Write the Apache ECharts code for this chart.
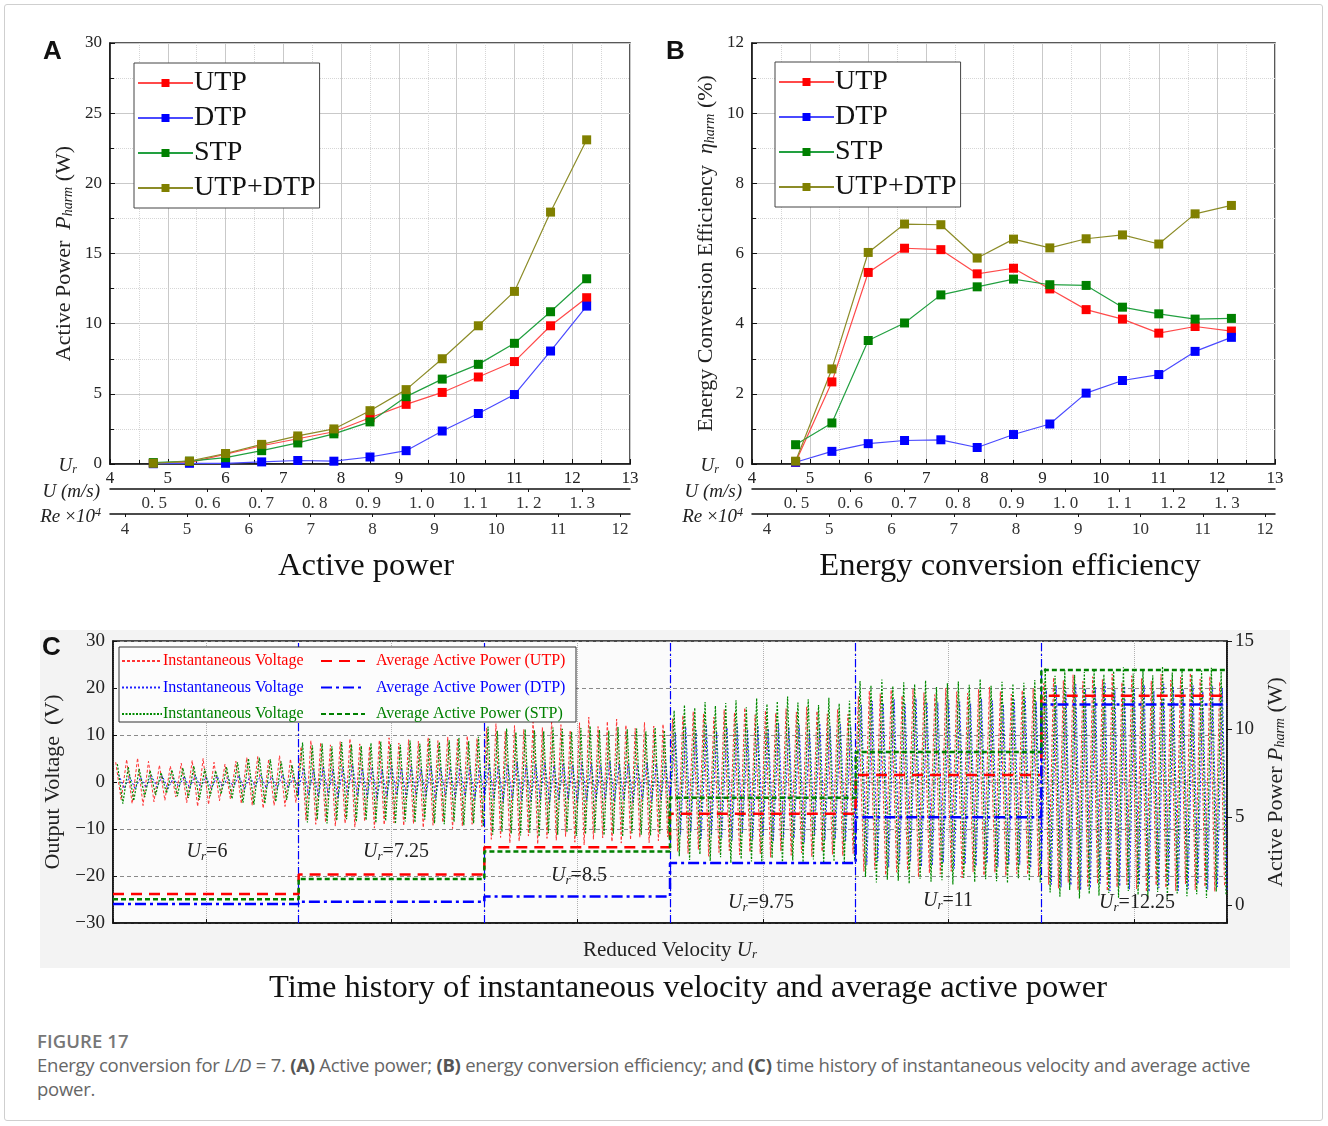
<!DOCTYPE html>
<html>
<head>
<meta charset="utf-8">
<script src="https://cdn.jsdelivr.net/npm/echarts@6/dist/echarts.min.js"></script>
<style>
html,body{margin:0;padding:0;background:#fff;}
#wrap{position:relative;width:1328px;height:1126px;overflow:hidden;}
#frame{position:absolute;left:4px;top:4px;width:1319px;height:1117px;border:1px solid #cfcfcf;border-radius:3px;box-sizing:border-box;}
#chart{position:absolute;left:0;top:0;width:1328px;height:1020px;}
#cap{position:absolute;left:37px;top:1029px;width:1235px;font-family:"Open Sans",Lato,sans-serif;color:#666;z-index:2;}
#cap .h{font-size:18.5px;font-weight:600;letter-spacing:0.1px;color:#777;line-height:24px;}
#cap .t{font-size:18.5px;line-height:24px;margin-top:0px;color:#666;letter-spacing:-0.25px;}
#cap b{color:#555;font-weight:700;}
</style>
</head>
<body>
<div id="wrap">
<div id="frame"></div>
<div id="chart"></div>
<div id="cap"><div class="h">FIGURE 17</div><div class="t">Energy conversion for <i>L/D</i> = 7. <b>(A)</b> Active power; <b>(B)</b> energy conversion efficiency; and <b>(C)</b> time history of instantaneous velocity and average active power.</div></div>
</div>
<script>
// ---------------- DATA ----------------
const urValues = [4.75, 5.375, 6, 6.625, 7.25, 7.875, 8.5, 9.125, 9.75, 10.375, 11, 11.625, 12.25];
const seriesNames = ['UTP', 'DTP', 'STP', 'UTP+DTP'];

// Panel A: active power (W)
const powerUTP = [0.05, 0.1, 0.7, 1.3, 1.8, 2.3, 3.3, 4.25, 5.1, 6.2, 7.3, 9.85, 11.85];
const powerDTP = [0.02, 0.05, 0.05, 0.15, 0.25, 0.2, 0.5, 0.95, 2.35, 3.6, 4.95, 8.05, 11.25];
const powerSTP = [0.1, 0.2, 0.45, 0.95, 1.5, 2.15, 3.0, 4.8, 6.05, 7.1, 8.6, 10.85, 13.2];
const powerSum = [0.05, 0.2, 0.75, 1.4, 2.0, 2.5, 3.8, 5.3, 7.5, 9.85, 12.3, 17.95, 23.1];

// Panel B: energy conversion efficiency (%)
const effUTP = [0.05, 2.34, 5.46, 6.15, 6.11, 5.42, 5.58, 4.99, 4.40, 4.13, 3.73, 3.92, 3.79];
const effDTP = [0.05, 0.36, 0.58, 0.67, 0.69, 0.47, 0.84, 1.14, 2.02, 2.38, 2.55, 3.21, 3.61];
const effSTP = [0.55, 1.17, 3.52, 4.02, 4.82, 5.05, 5.27, 5.11, 5.09, 4.47, 4.28, 4.13, 4.15];
const effSum = [0.08, 2.71, 6.03, 6.84, 6.82, 5.87, 6.41, 6.16, 6.42, 6.53, 6.27, 7.13, 7.37];

// secondary axis tick labels
const velocityTicks = [0.5, 0.6, 0.7, 0.8, 0.9, 1.0, 1.1, 1.2, 1.3];
const reynoldsTicks = [4, 5, 6, 7, 8, 9, 10, 11, 12];

// Panel C
const segmentLabels = ['6', '7.25', '8.5', '9.75', '11', '12.25'];
const avgPowerUTP = [0.65, 1.75, 3.3, 5.2, 7.4, 11.9];
const avgPowerDTP = [0.08, 0.2, 0.5, 2.4, 5.0, 11.4];
const avgPowerSTP = [0.35, 1.5, 3.05, 6.1, 8.7, 13.35];
const powerTicksRight = [0, 5, 10, 15];

// instantaneous voltage extremes (peak, trough, ...) per Ur segment
const voltageUTP = [
  [4.2,-3.8, 4.8,-4.6, 5.1,-5.0, 4.4,-4.2, 3.6,-3.9, 3.4,-3.2, 4.0,-4.4, 4.6,-5.2, 5.0,-4.8, 4.2,-4.0, 3.8,-3.6, 4.4,-4.6, 5.2,-5.0, 5.4,-5.6, 4.8,-5.0, 5.6,-5.2, 4.9,-4.4],
  [7.5,-8.2, 8.8,-9.0, 8.4,-8.6, 7.9,-9.4, 8.6,-8.8, 9.2,-9.6, 8.1,-8.4, 7.6,-9.8, 8.9,-9.1, 9.4,-8.7, 8.3,-9.3, 9.0,-8.9, 8.7,-9.7, 9.5,-9.2, 8.8,-8.6, 9.6,-9.9, 9.1,-9.4, 9.8,-9.0, 9.3,-9.5],
  [11.5,-12.2, 12.4,-11.8, 10.8,-13.0, 12.0,-12.6, 11.2,-11.5, 12.8,-13.2, 11.6,-12.0, 13.2,-12.4, 12.2,-11.6, 11.0,-12.8, 12.6,-13.4, 13.8,-12.2, 11.8,-11.9, 12.9,-12.7, 13.4,-13.0, 12.1,-12.3, 11.4,-11.8, 12.7,-12.9, 11.9,-12.5, 12.3,-11.7],
  [13.5,-14.8, 14.2,-15.2, 15.0,-14.4, 14.6,-15.8, 13.8,-15.0, 15.4,-14.6, 14.8,-15.5, 15.8,-14.9, 14.3,-15.3, 15.2,-16.0, 14.7,-14.7, 15.6,-15.6, 14.9,-15.1, 16.0,-15.9, 15.1,-14.8, 14.5,-15.4, 15.5,-15.7, 14.4,-15.2],
  [18.2,-19.0, 19.4,-18.6, 18.8,-19.8, 19.6,-19.2, 18.4,-18.8, 19.8,-20.2, 19.0,-19.4, 18.6,-19.6, 20.0,-19.0, 19.2,-20.4, 18.9,-19.1, 19.7,-19.9, 20.2,-19.3, 19.3,-20.0, 18.7,-19.5, 19.5,-19.7, 19.9,-20.1],
  [21.0,-21.8, 22.2,-22.6, 21.6,-21.4, 22.8,-23.0, 21.4,-22.2, 22.4,-21.6, 21.8,-23.2, 23.0,-22.4, 21.2,-21.9, 22.6,-22.8, 22.0,-23.4, 21.5,-22.0, 22.9,-22.5, 21.7,-23.1, 22.3,-21.7, 23.2,-22.9, 21.9,-22.3, 22.5,-23.3, 21.3,-22.1]
];
const voltageDTP = [
  [1.6,-1.4, 1.2,-1.5, 1.0,-1.2, 1.4,-1.1, 1.3,-1.5, 0.9,-1.0, 1.2,-1.3, 1.5,-1.2, 1.1,-1.4, 1.3,-1.0, 1.0,-1.2, 1.4,-1.6, 1.2,-1.0, 1.5,-1.3, 1.1,-1.4, 1.6,-1.2, 1.0,-1.3],
  [3.0,-2.8, 2.6,-3.2, 3.4,-2.9, 2.8,-3.5, 3.1,-2.7, 3.6,-3.0, 2.9,-3.3, 3.2,-3.6, 2.7,-3.1, 3.5,-2.8, 3.0,-3.4, 3.3,-2.9, 2.8,-3.2, 3.6,-3.5, 3.1,-2.8, 2.9,-3.3, 3.4,-3.0, 3.2,-3.6, 3.0,-3.1],
  [4.0,-3.6, 3.4,-4.2, 3.8,-3.5, 4.4,-3.9, 3.6,-4.1, 3.9,-3.7, 4.2,-4.4, 3.5,-3.8, 4.1,-3.6, 3.7,-4.3, 4.3,-3.9, 3.8,-4.0, 3.6,-3.7, 4.5,-4.2, 3.9,-3.8, 4.0,-4.5, 3.7,-3.6, 4.2,-4.1, 3.8,-3.9, 4.1,-4.0],
  [10.5,-11.2, 11.8,-10.6, 11.0,-12.0, 12.2,-11.4, 10.8,-11.8, 11.6,-12.4, 12.4,-11.0, 11.2,-12.2, 12.0,-11.6, 11.4,-12.6, 12.6,-11.8, 11.7,-12.0, 12.1,-12.8, 11.3,-11.5, 12.5,-12.3, 11.9,-12.1, 12.3,-12.7, 11.8,-12.2],
  [16.4,-17.6, 17.2,-16.8, 16.8,-18.2, 17.6,-17.4, 16.6,-17.0, 17.8,-18.0, 17.0,-17.8, 16.9,-17.2, 17.4,-18.4, 17.1,-17.5, 16.7,-17.9, 17.7,-17.3, 17.3,-18.1, 16.5,-17.7, 17.5,-17.6, 17.9,-18.3, 17.2,-17.4],
  [19.5,-21.8, 20.6,-22.4, 19.2,-22.0, 20.8,-23.0, 19.8,-22.6, 20.2,-21.6, 21.0,-23.2, 19.6,-22.2, 20.4,-22.8, 19.9,-21.9, 20.7,-23.4, 19.4,-22.5, 20.9,-22.1, 20.1,-23.1, 19.7,-22.7, 20.5,-21.7, 19.3,-22.9, 20.3,-22.3, 20.0,-23.3]
];
const voltageSTP = [
  [3.8,-4.6, 3.2,-4.0, 2.8,-3.2, 2.4,-2.8, 2.0,-2.4, 2.6,-3.0, 3.0,-3.4, 3.4,-3.8, 2.8,-3.0, 2.4,-2.6, 3.2,-3.6, 4.2,-4.4, 5.0,-4.8, 5.2,-4.6, 4.8,-4.2, 4.4,-3.8, 3.6,-3.2],
  [8.4,-8.6, 7.8,-8.0, 8.2,-8.8, 7.6,-8.2, 8.5,-7.9, 8.0,-8.5, 7.7,-8.1, 8.3,-8.7, 8.6,-8.3, 8.1,-8.9, 7.9,-8.4, 8.8,-8.6, 8.2,-8.0, 9.2,-8.8, 8.5,-9.0, 8.9,-8.5, 9.4,-9.2, 8.7,-8.8, 9.6,-9.4],
  [11.8,-11.2, 10.9,-10.6, 11.4,-11.0, 10.6,-11.4, 11.2,-10.8, 11.0,-11.6, 10.8,-10.9, 11.6,-11.2, 11.3,-10.7, 10.7,-11.5, 11.5,-11.1, 11.9,-10.8, 11.1,-11.3, 10.9,-11.0, 11.7,-11.6, 11.2,-10.9, 11.4,-11.2, 10.8,-11.4, 11.6,-11.0, 11.0,-11.5],
  [15.2,-15.8, 16.4,-16.6, 15.8,-15.4, 17.0,-16.8, 16.2,-16.0, 16.8,-17.2, 17.4,-16.4, 15.9,-16.9, 17.8,-17.0, 16.6,-16.2, 17.2,-17.4, 18.2,-16.7, 16.9,-17.1, 17.6,-16.5, 16.4,-17.3, 17.9,-16.9, 16.7,-17.0, 17.3,-16.6],
  [21.5,-20.2, 20.6,-21.4, 21.8,-20.8, 20.4,-21.0, 21.2,-21.6, 20.8,-20.6, 21.6,-21.2, 20.2,-20.9, 21.0,-21.8, 21.4,-20.4, 20.7,-21.3, 21.9,-20.7, 20.5,-21.1, 21.3,-21.5, 20.9,-20.5, 21.1,-21.0, 21.7,-21.4],
  [24.2,-23.5, 22.6,-24.4, 23.8,-23.0, 22.8,-24.8, 23.4,-23.8, 24.0,-24.2, 22.9,-23.6, 23.6,-24.6, 24.4,-23.2, 23.1,-24.0, 23.9,-24.5, 22.7,-23.4, 24.6,-24.9, 23.3,-23.7, 24.1,-24.3, 22.8,-23.9, 23.7,-24.7, 24.3,-23.3, 23.5,-24.1]
];

// ---------------- HELPERS ----------------
const SERIF = '"Liberation Serif","Times New Roman",serif';
const SANS = '"Liberation Sans",Arial,sans-serif';
const pairs = (xs, ys) => xs.map((x, i) => [x, ys[i]]);
function buildWave(segs, phase) {
  const pts = [];
  segs.forEach((arr, s) => {
    const n = arr.length;
    arr.forEach((v, k) => pts.push([s + (k + 0.5 + phase) / n, v]));
  });
  return pts;
}
function buildSteps(vals) {
  const pts = [];
  vals.forEach((v, s) => { pts.push([s, v]); pts.push([s + 1, v]); });
  return pts;
}
// mapping of the secondary scales onto the Ur span 4..13 (layout)
const uAt = ur => 0.5 + (ur - 4.765) / 9.26;
const reAt = ur => 4 + (ur - 4.26) / 1.071;

const colors = {
  UTP: {m: '#ff0000', l: '#ff4a4a'},
  DTP: {m: '#0000ff', l: '#4a4aff'},
  STP: {m: '#008000', l: '#22a040'},
  'UTP+DTP': {m: '#808000', l: '#8c8c28'}
};

function mainX(grid) {
  return {
    gridIndex: grid, type: 'value', min: 4, max: 13, interval: 1, position: 'bottom',
    axisLine: {show: true, onZero: false, lineStyle: {color: '#111', width: 1.5}},
    axisTick: {show: true, inside: true, length: 5, lineStyle: {color: '#111'}},
    minorTick: {show: true, splitNumber: 2, length: 4, lineStyle: {color: '#111'}},
    axisLabel: {fontSize: 17, color: '#222', margin: 6, fontFamily: SERIF},
    splitLine: {show: true, lineStyle: {color: '#c9c9c9', width: 1}},
    minorSplitLine: {show: true, lineStyle: {color: '#d6d6d6', type: 'dotted'}}
  };
}
function uAxis(grid) {
  return {
    gridIndex: grid, type: 'value', min: uAt(4), max: uAt(13), position: 'bottom', offset: 25,
    axisLine: {show: true, onZero: false, lineStyle: {color: '#111', width: 1.5}},
    axisTick: {show: true, customValues: velocityTicks, length: 3, lineStyle: {color: '#111'}},
    axisLabel: {customValues: velocityTicks, fontSize: 17, color: '#333', margin: 6, fontFamily: SERIF,
      formatter: v => v.toFixed(1).replace('.', '. ')},
    splitLine: {show: false}
  };
}
function reAxis(grid) {
  return {
    gridIndex: grid, type: 'value', min: reAt(4), max: reAt(13), position: 'bottom', offset: 50,
    axisLine: {show: true, onZero: false, lineStyle: {color: '#111', width: 1.5}},
    axisTick: {show: true, customValues: reynoldsTicks, length: 3, lineStyle: {color: '#111'}},
    axisLabel: {customValues: reynoldsTicks, fontSize: 17, color: '#333', margin: 7, fontFamily: SERIF,
      formatter: v => String(Math.round(v))},
    splitLine: {show: false}
  };
}
const subRich = {
  i: {fontStyle: 'italic', fontSize: 22, fontFamily: SERIF, color: '#222'},
  s: {fontStyle: 'italic', fontSize: 14, fontFamily: SERIF, color: '#222', verticalAlign: 'bottom', padding: [8, 0, 0, 0]}
};
function leftY(grid, max, interval, name) {
  return {
    gridIndex: grid, type: 'value', min: 0, max: max, interval: interval,
    axisLine: {show: true, onZero: false, lineStyle: {color: '#111', width: 1.5}},
    axisTick: {show: true, inside: true, length: 5, lineStyle: {color: '#111'}},
    minorTick: {show: true, splitNumber: 2, length: 4, lineStyle: {color: '#111'}},
    axisLabel: {fontSize: 17, color: '#222', margin: 8, fontFamily: SERIF},
    splitLine: {show: true, lineStyle: {color: '#c9c9c9'}},
    minorSplitLine: {show: true, lineStyle: {color: '#d6d6d6', type: 'dotted'}},
    name: name, nameLocation: 'middle', nameRotate: 90, nameGap: 35,
    nameTextStyle: {fontSize: 22, fontFamily: SERIF, color: '#222', rich: subRich}
  };
}
function abSeries(name, xIdx, yIdx, ys) {
  const c = colors[name];
  return {
    name: name, type: 'line', xAxisIndex: xIdx, yAxisIndex: yIdx,
    data: pairs(urValues, ys), symbol: 'rect', symbolSize: 9, showSymbol: true,
    itemStyle: {color: c.m}, lineStyle: {color: c.l, width: 1.2}, z: 5
  };
}
function abLegend(left, top) {
  return {
    orient: 'vertical', left: left, top: top, selectedMode: false,
    data: seriesNames,
    backgroundColor: '#fff', borderColor: '#444', borderWidth: 1, padding: [6, 4, 6, 3],
    itemWidth: 55, itemHeight: 10, itemGap: 7,
    textStyle: {fontSize: 28, fontFamily: SERIF, color: '#111', lineHeight: 26, padding: [0, 0, 0, -4]}
  };
}

const gridA = {left: 110, top: 43, width: 520, height: 421, show: true, borderColor: '#222', borderWidth: 1.5, backgroundColor: '#fff', containLabel: false};
const gridB = {left: 752, top: 43, width: 523, height: 421, show: true, borderColor: '#222', borderWidth: 1.5, backgroundColor: '#fff', containLabel: false};
const gridC = {left: 113, top: 641, width: 1114, height: 282, show: true, borderColor: '#111', borderWidth: 1.5, backgroundColor: '#fbfbfb', containLabel: false};

const segRich = {
  u: {fontStyle: 'italic', fontSize: 20, fontFamily: SERIF, color: '#222'},
  s: {fontStyle: 'italic', fontSize: 13, fontFamily: SERIF, color: '#222', verticalAlign: 'bottom', padding: [9, 0, 0, 0]},
  n: {fontSize: 20, fontFamily: SERIF, color: '#222'}
};
const segPos = [[207, 852], [396, 852], [579, 876], [761, 903], [948, 901], [1137, 903]];

function txt(x, y, text, font, align) {
  return {type: 'text', x: x, y: y, z: 50, style: {text: text, font: font, fill: '#111', textAlign: align || 'left', textVerticalAlign: 'middle'}};
}
function richTxt(x, y, text, rich, align) {
  return {type: 'text', x: x, y: y, z: 50, style: {text: text, rich: rich, textAlign: align, textVerticalAlign: 'middle', fill: '#222', font: '20px ' + SERIF}};
}
const rowRich = {
  u: {fontStyle: 'italic', fontSize: 19, fontFamily: SERIF, color: '#222'},
  s: {fontStyle: 'italic', fontSize: 12, fontFamily: SERIF, color: '#222', verticalAlign: 'bottom', padding: [8, 0, 0, 0]},
  p: {fontStyle: 'italic', fontSize: 12, fontFamily: SERIF, color: '#222', verticalAlign: 'top', padding: [0, 0, 8, 0]},
  n: {fontSize: 19, fontFamily: SERIF, color: '#222'}
};
function rowLabels(ax) {
  return [
    richTxt(ax - 33, 466, '{u|U}{s|r}', rowRich, 'right'),
    richTxt(ax - 10, 492, '{u|U (m/s)}', rowRich, 'right'),
    richTxt(ax - 9, 517, '{u|Re} {n|×}{u|10}{p|4}', rowRich, 'right')
  ];
}

const graphics = [
  {type: 'rect', shape: {x: 40, y: 630, width: 1250, height: 338}, style: {fill: '#f3f3f3'}, z: -10, silent: true},
  txt(43, 52, 'A', 'bold 26px ' + SANS),
  txt(666, 52, 'B', 'bold 26px ' + SANS),
  txt(42, 648, 'C', 'bold 26px ' + SANS),
  txt(366, 566, 'Active power', '32.5px ' + SERIF, 'center'),
  txt(1010, 566, 'Energy conversion efficiency', '32.5px ' + SERIF, 'center'),
  txt(688, 988, 'Time history of instantaneous velocity and average active power', '32.5px ' + SERIF, 'center'),
  {type: 'rect', shape: {x: 119, y: 647, width: 457, height: 75}, style: {fill: '#fcfcfc', stroke: '#333', lineWidth: 1}, z: 15, silent: true}
].concat(rowLabels(110), rowLabels(752),
  segmentLabels.map((s, i) => richTxt(segPos[i][0], segPos[i][1], '{u|U}{s|r}{n|=' + s + '}', segRich, 'center')));

const option = {
  animation: false,
  textStyle: {fontFamily: SERIF},
  grid: [gridA, gridB, gridC],
  xAxis: [
    mainX(0), uAxis(0), reAxis(0),
    mainX(1), uAxis(1), reAxis(1),
    {
      gridIndex: 2, type: 'value', min: 0, max: 6, interval: 0.5, position: 'bottom',
      axisLine: {show: true, onZero: false, lineStyle: {color: '#111', width: 1.5}},
      axisTick: {show: true, inside: true, length: 4, lineStyle: {color: '#111'}},
      axisLabel: {show: false},
      splitLine: {show: true, lineStyle: {color: '#b0b0b0', type: 'dotted'}},
      name: '{n|Reduced Velocity }{u|U}{s|r}', nameLocation: 'middle', nameGap: 16,
      nameTextStyle: {rich: {
        n: {fontSize: 21, fontFamily: SERIF, color: '#222'},
        u: {fontSize: 21, fontStyle: 'italic', fontFamily: SERIF, color: '#222'},
        s: {fontSize: 13, fontStyle: 'italic', fontFamily: SERIF, color: '#222', verticalAlign: 'bottom', padding: [9, 0, 0, 0]}
      }}
    }
  ],
  yAxis: [
    leftY(0, 30, 5, 'Active Power  {i|P}{s|harm} (W)'),
    leftY(1, 12, 2, 'Energy Conversion Efficiency  {i|η}{s|harm} (%)'),
    {
      gridIndex: 2, type: 'value', min: -30, max: 30, interval: 10,
      axisLine: {show: true, onZero: false, lineStyle: {color: '#111', width: 1.5}},
      axisTick: {show: true, inside: true, length: 4, lineStyle: {color: '#111'}},
      axisLabel: {fontSize: 19, color: '#222', margin: 8, fontFamily: SERIF,
        formatter: v => v < 0 ? '\u2212' + Math.abs(v) : String(v)},
      splitLine: {show: true, lineStyle: {color: '#8a8a8a', type: [4, 3], width: 1}},
      name: 'Output Voltage  (V)', nameLocation: 'middle', nameRotate: 90, nameGap: 45,
      nameTextStyle: {fontSize: 22, fontFamily: SERIF, color: '#222'}
    },
    {
      gridIndex: 2, type: 'value', min: -1, max: 15, position: 'right',
      axisLine: {show: true, onZero: false, lineStyle: {color: '#111', width: 1.5}},
      axisTick: {show: true, customValues: powerTicksRight, inside: false, length: 5, lineStyle: {color: '#111'}},
      axisLabel: {customValues: powerTicksRight, fontSize: 19, color: '#222', margin: 8, fontFamily: SERIF},
      splitLine: {show: false},
      name: 'Active Power {i|P}{s|harm} (W)', nameLocation: 'middle', nameRotate: 90, nameGap: 34,
      nameTextStyle: {fontSize: 22, fontFamily: SERIF, color: '#222', rich: subRich}
    }
  ],
  legend: [
    abLegend(134, 63),
    abLegend(775, 62),
    {
      orient: 'vertical', left: 121, top: 653, selectedMode: false, z: 20,
      data: [
        {name: 'Instantaneous Voltage (UTP)', textStyle: {color: '#ff0000'}},
        {name: 'Instantaneous Voltage (DTP)', textStyle: {color: '#0000ff'}},
        {name: 'Instantaneous Voltage (STP)', textStyle: {color: '#008000'}}
      ],
      formatter: n => n.replace(/ \((UTP|DTP|STP)\)$/, ''),
      itemWidth: 40, itemHeight: 8, itemGap: 10.5, padding: 0,
      itemStyle: {opacity: 0},
      textStyle: {fontSize: 16, fontFamily: SERIF, lineHeight: 16, padding: [0, 0, 0, -4]}
    },
    {
      orient: 'vertical', left: 320, top: 653, selectedMode: false, z: 20,
      data: [
        {name: 'Average Active Power (UTP)', textStyle: {color: '#ff0000'}},
        {name: 'Average Active Power (DTP)', textStyle: {color: '#0000ff'}},
        {name: 'Average Active Power (STP)', textStyle: {color: '#008000'}}
      ],
      itemWidth: 44, itemHeight: 8, itemGap: 10.5, padding: 0,
      itemStyle: {opacity: 0},
      textStyle: {fontSize: 16, fontFamily: SERIF, lineHeight: 16, padding: [0, 0, 0, 6]}
    }
  ],
  graphic: graphics,
  series: [
    abSeries('UTP', 0, 0, powerUTP),
    abSeries('DTP', 0, 0, powerDTP),
    abSeries('STP', 0, 0, powerSTP),
    abSeries('UTP+DTP', 0, 0, powerSum),
    abSeries('UTP', 3, 1, effUTP),
    abSeries('DTP', 3, 1, effDTP),
    abSeries('STP', 3, 1, effSTP),
    abSeries('UTP+DTP', 3, 1, effSum),
    {name: 'Instantaneous Voltage (UTP)', type: 'line', xAxisIndex: 6, yAxisIndex: 2, showSymbol: false, symbol: 'none',
      data: buildWave(voltageUTP, 0.0), itemStyle: {color: '#ff3333'}, lineStyle: {color: '#ff3333', width: 1, type: [3, 2]}, z: 2},
    {name: 'Instantaneous Voltage (DTP)', type: 'line', xAxisIndex: 6, yAxisIndex: 2, showSymbol: false, symbol: 'none',
      data: buildWave(voltageDTP, 0.55), itemStyle: {color: '#2222ff'}, lineStyle: {color: '#2222ff', width: 1, type: [2, 2]}, z: 2},
    {name: 'Instantaneous Voltage (STP)', type: 'line', xAxisIndex: 6, yAxisIndex: 2, showSymbol: false, symbol: 'none',
      data: buildWave(voltageSTP, 0.3), itemStyle: {color: '#008a00'}, lineStyle: {color: '#008a00', width: 1.2, type: [2, 1.5]}, z: 3},
    {name: 'Average Active Power (UTP)', type: 'line', xAxisIndex: 6, yAxisIndex: 3, showSymbol: false, symbol: 'none',
      data: buildSteps(avgPowerUTP), itemStyle: {color: '#ff0000'}, lineStyle: {color: '#ff0000', width: 2.5, type: [11, 7]}, z: 6},
    {name: 'Average Active Power (DTP)', type: 'line', xAxisIndex: 6, yAxisIndex: 3, showSymbol: false, symbol: 'none',
      data: buildSteps(avgPowerDTP), itemStyle: {color: '#0000ff'}, lineStyle: {color: '#0000ff', width: 2.5, type: [11, 4, 3, 4]}, z: 6,
      markLine: {silent: true, symbol: 'none', label: {show: false},
        lineStyle: {color: '#0000ff', width: 1.2, type: [8, 3, 2, 3]},
        data: [1, 2, 3, 4, 5].map(x => ({xAxis: x}))}},
    {name: 'Average Active Power (STP)', type: 'line', xAxisIndex: 6, yAxisIndex: 3, showSymbol: false, symbol: 'none',
      data: buildSteps(avgPowerSTP), itemStyle: {color: '#008000'}, lineStyle: {color: '#008000', width: 2.5, type: [5, 3]}, z: 6}
  ]
};

const chart = echarts.init(document.getElementById('chart'), null, {renderer: 'canvas'});
chart.setOption(option);
</script>
</body>
</html>
